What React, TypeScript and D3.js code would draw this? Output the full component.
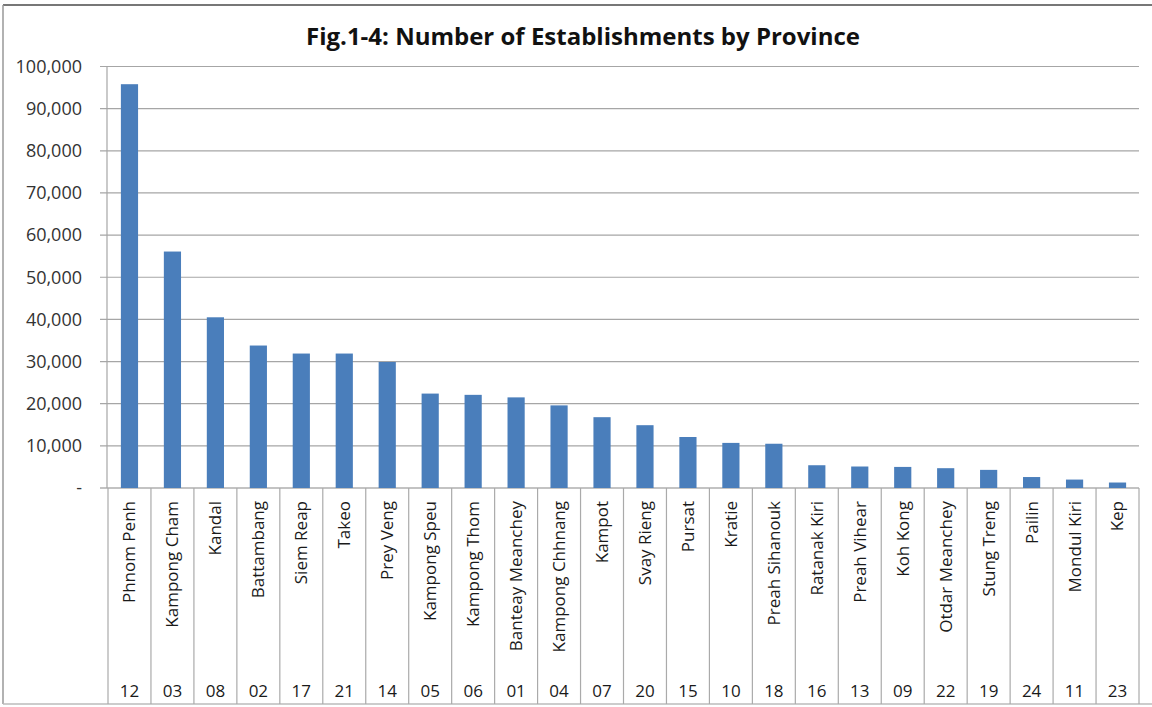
import React from "react";
import * as d3 from "d3";

const provinces = [
  "Phnom Penh", "Kampong Cham", "Kandal", "Battambang", "Siem Reap", "Takeo",
  "Prey Veng", "Kampong Speu", "Kampong Thom", "Banteay Meanchey", "Kampong Chhnang",
  "Kampot", "Svay Rieng", "Pursat", "Kratie", "Preah Sihanouk", "Ratanak Kiri",
  "Preah Vihear", "Koh Kong", "Otdar Meanchey", "Stung Treng", "Pailin", "Mondul Kiri", "Kep",
];
const codes = [
  "12", "03", "08", "02", "17", "21", "14", "05", "06", "01", "04", "07",
  "20", "15", "10", "18", "16", "13", "09", "22", "19", "24", "11", "23",
];
const establishments = [
  95800, 56100, 40500, 33800, 31900, 31900, 29900, 22400, 22100, 21500, 19600, 16800,
  14900, 12100, 10700, 10500, 5400, 5100, 5000, 4700, 4300, 2600, 2000, 1300,
];
const yTicks = [0, 10000, 20000, 30000, 40000, 50000, 60000, 70000, 80000, 90000, 100000];
const title = "Fig.1-4: Number of Establishments by Province";

const W = 1152;
const H = 707;
const FONT = "'Open Sans', 'Noto Sans', sans-serif";

export default function App() {
  const x = d3
    .scaleBand<string>()
    .domain(provinces)
    .range([108, 1139])
    .paddingInner(0.6)
    .paddingOuter(0.3);
  const y = d3.scaleLinear().domain([0, 100000]).range([488, 66.5]);
  const step = x.step();
  const left = 108;
  const fmt = d3.format(",");

  return (
    <svg
      width={W}
      height={H}
      style={{ position: "absolute", left: 0, top: 0, background: "#fff" }}
      fontFamily={FONT}
    >
      <rect x={0} y={0} width={W} height={H} fill="#fff" />
      {/* frame */}
      <line x1={3} y1={5} x2={W} y2={5} stroke="#777" strokeWidth={2} />
      <line x1={3} y1={5} x2={3} y2={704} stroke="#999" strokeWidth={1.5} />
      <line x1={3} y1={704} x2={W} y2={704} stroke="#bbb" strokeWidth={1.5} />

      <text
        x={583}
        y={45}
        textAnchor="middle"
        fontSize={24}
        fontWeight={700}
        fill="#111"
      >
        {title}
      </text>

      {/* gridlines */}
      {yTicks.map((t) => (
        <g key={t}>
          <line
            x1={100}
            x2={1139}
            y1={y(t)}
            y2={y(t)}
            stroke={t === 0 ? "#888" : "#a6a6a6"}
            strokeWidth={1.2}
          />
          <text
            x={82}
            y={y(t)}
            dy="0.35em"
            textAnchor="end"
            fontSize={18}
            fill="#333"
          >
            {t === 0 ? "-" : fmt(t)}
          </text>
        </g>
      ))}
      <line x1={107} x2={107} y1={y(100000)} y2={y(0)} stroke="#a6a6a6" strokeWidth={1.2} />

      {/* bars */}
      {provinces.map((p, i) => (
        <rect
          key={p}
          x={x(p)}
          y={y(establishments[i])}
          width={x.bandwidth()}
          height={y(0) - y(establishments[i])}
          fill="#4a7ebb"
        />
      ))}

      {/* category separators */}
      {d3.range(provinces.length + 1).map((i) => (
        <line
          key={i}
          x1={left + i * step}
          x2={left + i * step}
          y1={488}
          y2={704}
          stroke="#aaa"
          strokeWidth={1.2}
        />
      ))}

      {/* category labels */}
      {provinces.map((p, i) => {
        const cx = (x(p) as number) + x.bandwidth() / 2;
        return (
          <g key={p}>
            <text
              transform={`translate(${cx},501) rotate(-90)`}
              dy="0.35em"
              textAnchor="end"
              fontSize={17}
              fill="#1a1a1a"
            >
              {p}
            </text>
            <text x={cx} y={697} textAnchor="middle" fontSize={17} fill="#1a1a1a">
              {codes[i]}
            </text>
          </g>
        );
      })}
    </svg>
  );
}
